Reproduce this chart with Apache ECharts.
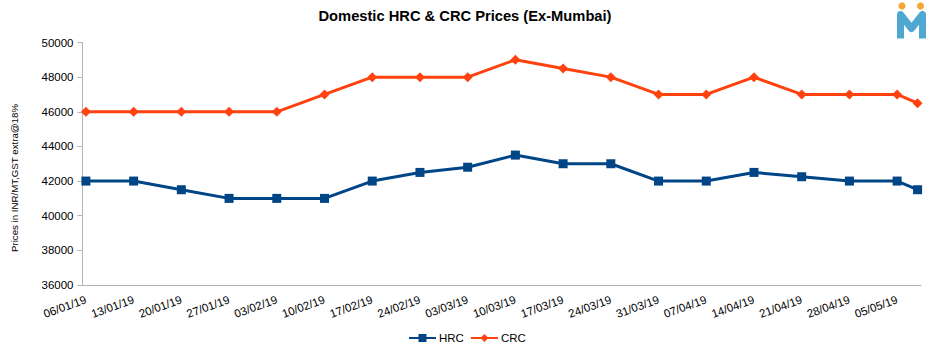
<!DOCTYPE html>
<html>
<head>
<meta charset="utf-8">
<style>
  html, body { margin: 0; padding: 0; background: #fff; }
  #chart { width: 931px; height: 351px; }
</style>
<script src="https://cdn.jsdelivr.net/npm/echarts@6/dist/echarts.min.js"></script>
</head>
<body>
<div id="chart"></div>
<script>
// dates of the readings (dd/mm/yy); the last one falls between weekly ticks
var dates = ['06/01/19','13/01/19','20/01/19','27/01/19','03/02/19','10/02/19','17/02/19','24/02/19','03/03/19','10/03/19',
             '17/03/19','24/03/19','31/03/19','07/04/19','14/04/19','21/04/19','28/04/19','05/05/19','08/05/19'];
var hrc = [42000,42000,41500,41000,41000,41000,42000,42500,42800,43500,43000,43000,42000,42000,42500,42250,42000,42000,41500];
var crc = [46000,46000,46000,46000,46000,47000,48000,48000,48000,49000,48500,48000,47000,47000,48000,47000,47000,47000,46500];

var font = '"Liberation Sans", Arial, sans-serif';

// the x axis is a daily date axis, so build one category per day
function fmt(d) {
    var dd = ('0' + d.getUTCDate()).slice(-2);
    var mm = ('0' + (d.getUTCMonth() + 1)).slice(-2);
    return dd + '/' + mm + '/' + String(d.getUTCFullYear()).slice(-2);
}
var days = [];
for (var t = Date.UTC(2019, 0, 6); t <= Date.UTC(2019, 4, 8); t += 86400000) {
    days.push(fmt(new Date(t)));
}
function onDays(values) {
    return days.map(function (day) {
        var i = dates.indexOf(day);
        return i < 0 ? null : values[i];
    });
}

var myChart = echarts.init(document.getElementById('chart'), null, { renderer: 'svg' });
var option = {
    animation: false,
    backgroundColor: '#fff',
    title: {
        text: 'Domestic HRC & CRC Prices (Ex-Mumbai)',
        left: 460,
        top: 3,
        textAlign: 'center',
        textStyle: { fontFamily: font, fontSize: 14.7, fontWeight: 'bold', color: '#000' }
    },
    legend: {
        data: ['HRC', 'CRC'],
        left: 403,
        top: 327,
        itemWidth: 27,
        itemHeight: 10,
        itemGap: 6,
        textStyle: { fontFamily: font, fontSize: 11.5, color: '#000', padding: [0, 0, 0, -2] }
    },
    grid: { left: 82.5, right: 10, top: 42.5, bottom: 66, outerBoundsMode: 'none' },
    xAxis: {
        type: 'category',
        data: days,
        boundaryGap: true,
        axisLine: { lineStyle: { color: '#b3b3b3', width: 1 } },
        axisTick: { interval: 6, alignWithLabel: false, length: 5, lineStyle: { color: '#b3b3b3' } },
        axisLabel: { interval: 6, rotate: 20, margin: 14, fontFamily: font, fontSize: 11.5, color: '#000' },
        splitLine: { show: false }
    },
    yAxis: {
        type: 'value',
        min: 36000,
        max: 50000,
        interval: 2000,
        name: 'Prices in INR/MT,GST extra@18%',
        nameLocation: 'middle',
        nameGap: 63,
        nameTextStyle: { fontFamily: font, fontSize: 9.7, color: '#000', padding: [0, 28.5, 0, 0] },
        axisLine: { show: true, lineStyle: { color: '#b3b3b3', width: 1 } },
        axisTick: { show: true, length: 5, lineStyle: { color: '#b3b3b3' } },
        axisLabel: {
            margin: 9, fontFamily: font, fontSize: 11.5, color: '#000',
            formatter: function (v) { return String(v); }
        },
        splitLine: { show: false }
    },
    series: [
        {
            name: 'HRC', type: 'line', data: onDays(hrc), connectNulls: true,
            symbol: 'rect', symbolSize: 9, showAllSymbol: true,
            itemStyle: { color: '#004586' },
            lineStyle: { color: '#004586', width: 3 }
        },
        {
            name: 'CRC', type: 'line', data: onDays(crc), connectNulls: true,
            symbol: 'diamond', symbolSize: 10, showAllSymbol: true,
            itemStyle: { color: '#ff420e' },
            lineStyle: { color: '#ff420e', width: 3 }
        }
    ],
    // company logo, top right corner
    graphic: [
        { type: 'circle', shape: { cx: 902, cy: 6, r: 3.6 }, style: { fill: '#f5a733' } },
        { type: 'circle', shape: { cx: 920.5, cy: 6, r: 3.6 }, style: { fill: '#f5a733' } },
        {
            type: 'polyline',
            shape: { points: [[900.5, 38.5], [900.5, 14.5], [911.5, 28.5], [922.5, 14.5], [922.5, 38.5]] },
            style: { stroke: '#4fa8d1', lineWidth: 7, fill: 'none', lineJoin: 'round' }
        }
    ]
};
myChart.setOption(option);
</script>
</body>
</html>
